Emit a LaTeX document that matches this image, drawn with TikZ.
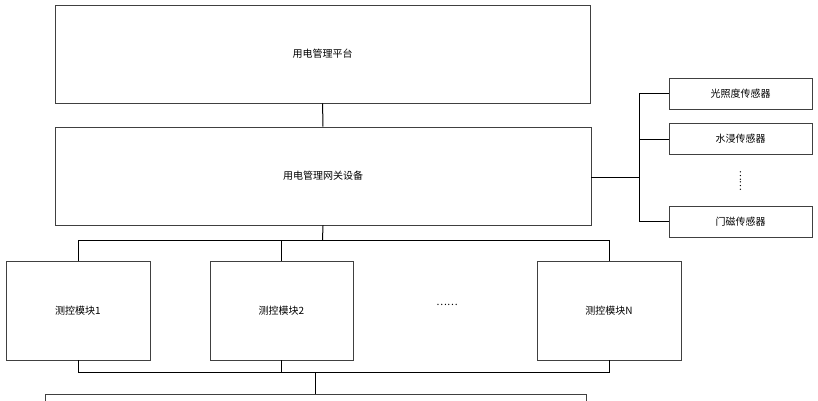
\documentclass[tikz,border=0pt]{standalone}
\usepackage{fontspec}
\setmainfont{Noto Sans CJK SC}
\usetikzlibrary{positioning}
\tikzset{
  box/.style={draw=black!75, line width=0.9pt, inner sep=0pt, font=\fontsize{10}{12}\selectfont},
  link/.style={line width=1pt}
}
\begin{document}
\begin{tikzpicture}[x=1pt,y=-1pt]
		\useasboundingbox (0,0) rectangle (818,400);
		% the main boxes
		\node[box, minimum width=535, minimum height=98] (plat) at (322.5,54) {用电管理平台};
		\node[box, minimum width=536, minimum height=98] (gw) at (323,176) {用电管理网关设备};
		\draw[box] (45,394) rectangle (586,410);
		\coordinate (base) at (315,394);
	
		% the sensors
		\node[box, minimum width=143, minimum height=31] (s1) at (740.5,93.5) {光照度传感器};
		\node[box, minimum width=143, minimum height=31] (s2) at (740.5,139) {水浸传感器};
		\node[box, minimum width=143, minimum height=31] (s3) at (740.5,221.5) {门磁传感器};
		\node (sdots) at (740.5,181) {\rotatebox{90}{……}};
	
		% the modules
		\node[box, minimum width=144, minimum height=99] (m1) at (78,310.5) {测控模块1};
		\node[box, minimum width=143, minimum height=99] (m2) at (281.5,310.5) {测控模块2};
		\node[box, minimum width=144, minimum height=99] (mn) at (609,310.5) {测控模块N};
		\node (mdots) at (447,305) {……};
	
		% draw the links
		\draw[link] (plat) -- (gw);
		\coordinate (trunk) at (639,177);
		\draw[link] (gw.east |- trunk) -- (trunk);
		\draw[link] (s1.west) -| (trunk) |- (s3.west);
		\draw[link] (s2.west) -- (s2.west -| trunk);
		\draw[link] (gw.south) -- (322.5,240);
		\draw[link] (m1.north) |- (mn.north |- 0,240) -- (mn.north);
		\draw[link] (m2.north) -- (m2.north |- 0,240);
		\draw[link] (m1.south) |- (mn.south |- 0,372) -- (mn.south);
		\draw[link] (m2.south) -- (m2.south |- 0,372);
		\draw[link] (base) -- (base |- 0,372);
	\end{tikzpicture}
\end{document}
